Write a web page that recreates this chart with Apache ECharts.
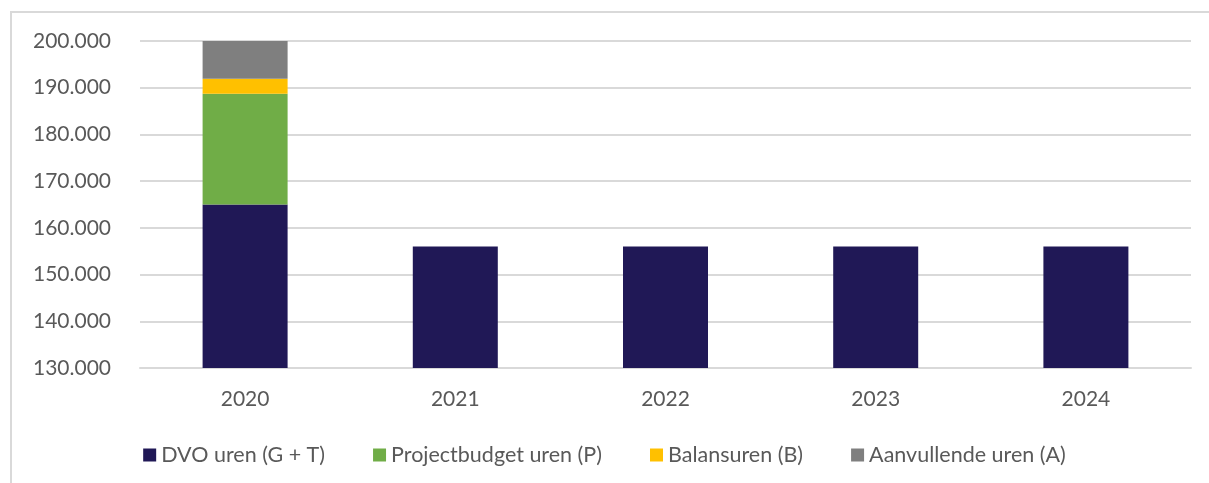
<!DOCTYPE html>
<html>
<head>
<meta charset="utf-8">
<script src="https://cdn.jsdelivr.net/npm/echarts@6/dist/echarts.min.js"></script>
<style>
  html, body { margin: 0; padding: 0; background: #fff; }
  #frame {
    position: absolute; left: 10px; top: 11px; width: 1199px; height: 472px;
    border-left: 2px solid #d9d9d9; border-top: 2px solid #d9d9d9;
  }
  #main { position: absolute; left: 0; top: 0; width: 1209px; height: 483px; }
</style>
</head>
<body>
<div id="frame"></div>
<div id="main"></div>
<script>
// jaren op de x-as
var years = ['2020', '2021', '2022', '2023', '2024'];
// uren per soort
var dvoUren = [165000, 156000, 156000, 156000, 156000];
var projectUren = [23700, 0, 0, 0, 0];
var balansUren = [3200, 0, 0, 0, 0];
var aanvullendUren = [8100, 0, 0, 0, 0];

var seriesNames = ['DVO uren (G + T)', 'Projectbudget uren (P)', 'Balansuren (B)', 'Aanvullende uren (A)'];
var seriesData = [dvoUren, projectUren, balansUren, aanvullendUren];
var myColor = ['#201856', '#70ad47', '#ffc000', '#7f7f7f'];

var FONT = 'Lato, "Open Sans", sans-serif';

function nlFormat(v) {
    return String(v).replace(/\B(?=(\d{3})+(?!\d))/g, '.');
}

var myChart = echarts.init(document.getElementById('main'));

var series = seriesNames.map(function (name, i) {
    return {
        name: name,
        type: 'bar',
        stack: 'uren',
        barWidth: 85,
        data: seriesData[i],
        itemStyle: { color: myColor[i] },
        emphasis: { disabled: true }
    };
});

var option = {
    backgroundColor: 'transparent',
    animation: false,
    grid: { left: 140, right: 18, top: 41, bottom: 115 },
    legend: {
        data: seriesNames,
        top: 439,
        left: 'center',
        itemWidth: 13,
        itemHeight: 13,
        itemGap: 48,
        icon: 'rect',
        textStyle: { fontFamily: FONT, fontSize: 21.5, color: '#595959', padding: [0, 0, 0, 0] }
    },
    xAxis: {
        type: 'category',
        data: years,
        axisLine: { lineStyle: { color: '#d9d9d9', width: 2 } },
        axisTick: { show: false },
        axisLabel: { fontFamily: FONT, fontSize: 21, color: '#595959', margin: 21 }
    },
    yAxis: {
        type: 'value',
        min: 130000,
        max: 200000,
        interval: 10000,
        axisLine: { show: false },
        axisTick: { show: false },
        splitLine: { lineStyle: { color: '#d9d9d9', width: 2 } },
        axisLabel: {
            fontFamily: FONT, fontSize: 21, color: '#595959', margin: 29,
            formatter: function (v) { return nlFormat(v); }
        }
    },
    series: series
};
myChart.setOption(option);
</script>
</body>
</html>
